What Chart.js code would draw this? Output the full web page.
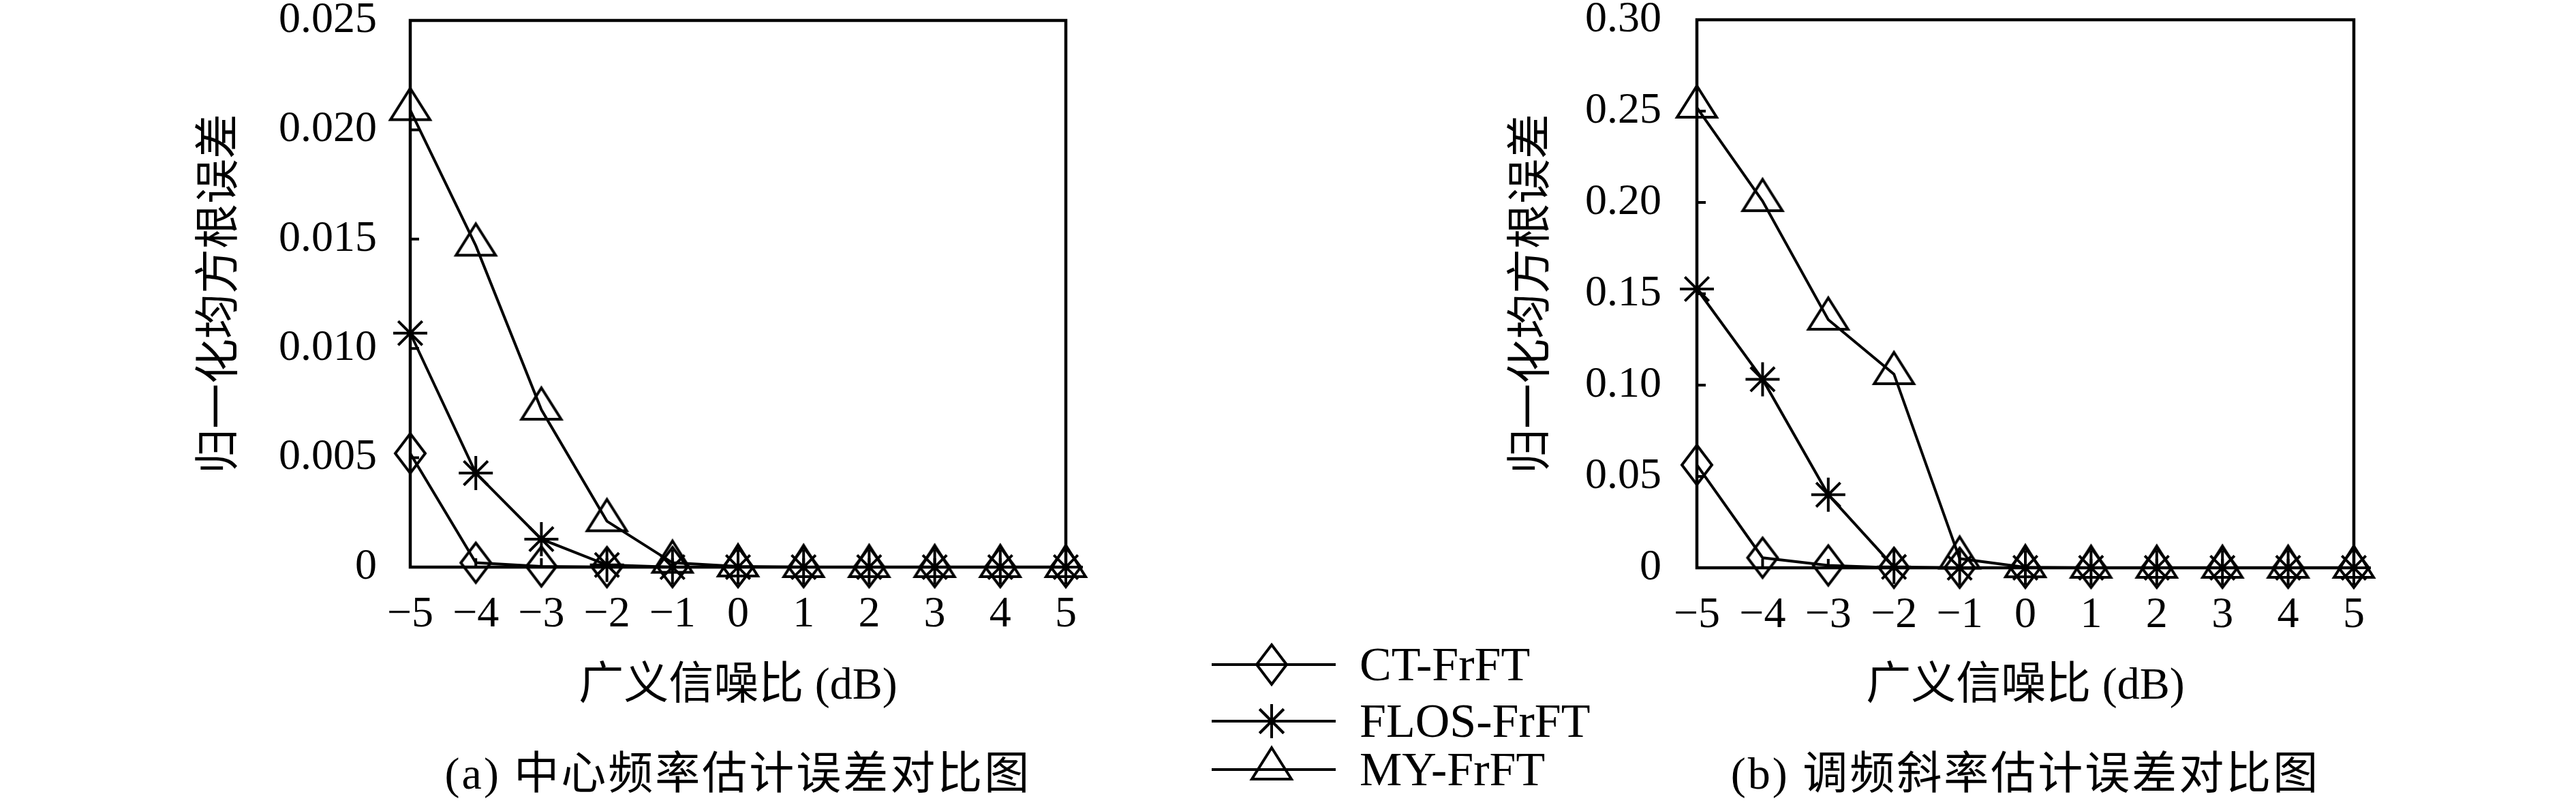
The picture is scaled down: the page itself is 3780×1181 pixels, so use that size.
<!DOCTYPE html>
<html>
<head>
<meta charset="utf-8">
<script src="https://cdn.jsdelivr.net/npm/chart.js@4.4.1/dist/chart.umd.min.js"></script>
<style>
  html, body { margin: 0; padding: 0; background: #fff; }
  #page { position: relative; width: 3780px; height: 1181px; background: #fff; overflow: hidden;
          font-family: 'Liberation Serif', 'Noto Sans CJK SC', serif; color: #000; }
  #boxA { position: absolute; left: 0; top: 0; }
  #boxB { position: absolute; left: 2150px; top: 0; }
  .cap { position: absolute; top: 1095px; width: 1100px; text-align: center; font-size: 66px;
         line-height: 80px; white-space: nowrap; letter-spacing: 3px; }
  .legico { position: absolute; left: 1770px; }
  .legtxt { position: absolute; left: 1995px; font-size: 70px; line-height: 80px; white-space: nowrap; }
</style>
</head>
<body>
<div id="page">
  <div id="boxA"><canvas id="chartA" width="1640" height="1181"></canvas></div>
  <div id="boxB"><canvas id="chartB" width="1630" height="1181"></canvas></div>

  <canvas class="legico" id="leg0" width="200" height="80" style="top:935px"></canvas>
  <canvas class="legico" id="leg1" width="200" height="80" style="top:1018px"></canvas>
  <canvas class="legico" id="leg2" width="200" height="80" style="top:1089px"></canvas>
  <div class="legtxt" id="legt0" style="top:935px"></div>
  <div class="legtxt" id="legt1" style="top:1018px"></div>
  <div class="legtxt" id="legt2" style="top:1089px"></div>

  <div class="cap" style="left:533px">(a) 中心频率估计误差对比图</div>
  <div class="cap" style="left:2422px">(b) 调频斜率估计误差对比图</div>
</div>

<script>
// x values: generalized SNR (dB)
var snr = [-5, -4, -3, -2, -1, 0, 1, 2, 3, 4, 5];
var xTickLabels = ['\u22125', '\u22124', '\u22123', '\u22122', '\u22121', '0', '1', '2', '3', '4', '5'];

var seriesNames = ['CT-FrFT', 'FLOS-FrFT', 'MY-FrFT'];

// (a) centre frequency error
var ctA   = [0.0052, 0.0002, 0.00003, 0, 0, 0, 0, 0, 0, 0, 0];
var flosA = [0.0107, 0.0043, 0.00128, 0.0001, 0, 0, 0, 0, 0, 0, 0];
var myA   = [0.0209, 0.0147, 0.0072, 0.0021, 0.0002, 0.00003, 0, 0, 0, 0, 0];
var yTicksA = [0, 0.005, 0.010, 0.015, 0.020, 0.025];
var yLabelsA = ['0', '0.005', '0.010', '0.015', '0.020', '0.025'];

// (b) chirp rate error
var ctB   = [0.0563, 0.0055, 0.0013, 0, 0, 0, 0, 0, 0, 0, 0];
var flosB = [0.1526, 0.1032, 0.0400, 0.0005, 0, 0, 0, 0, 0, 0, 0];
var myB   = [0.2519, 0.2007, 0.1358, 0.1060, 0.0050, 0.0003, 0, 0, 0, 0, 0];
var yTicksB = [0, 0.05, 0.10, 0.15, 0.20, 0.25, 0.30];
var yLabelsB = ['0', '0.05', '0.10', '0.15', '0.20', '0.25', '0.30'];

var xTitle = '广义信噪比 (dB)';
var yTitle = '归一化均方根误差';

var latin = "'Liberation Serif', 'Noto Sans CJK SC', serif";

// hollow marker images
function diamondImg(hw, hh, lw) {
    var c = document.createElement('canvas');
    c.width = 2 * Math.ceil(hw + lw + 4);
    c.height = 2 * Math.ceil(hh + lw + 4);
    var g = c.getContext('2d');
    var cx = c.width / 2, cy = c.height / 2;
    g.lineWidth = lw;
    g.strokeStyle = '#000';
    g.beginPath();
    g.moveTo(cx, cy - hh);
    g.lineTo(cx + hw, cy);
    g.lineTo(cx, cy + hh);
    g.lineTo(cx - hw, cy);
    g.closePath();
    g.stroke();
    return c;
}

function triangleImg(hw, up, down, lw) {
    var c = document.createElement('canvas');
    var half = Math.ceil(Math.max(up, down) + lw + 8);
    c.width = 2 * Math.ceil(hw + lw + 6);
    c.height = 2 * half;
    var g = c.getContext('2d');
    var cx = c.width / 2, cy = c.height / 2;
    g.lineWidth = lw;
    g.strokeStyle = '#000';
    g.beginPath();
    g.moveTo(cx, cy - up);
    g.lineTo(cx + hw, cy + down);
    g.lineTo(cx - hw, cy + down);
    g.closePath();
    g.stroke();
    return c;
}

var diamond = diamondImg(22, 29, 4);
var triangle = triangleImg(29, 32, 14, 4);
var markers = [diamond, 'star', triangle];

// box round the plot and short inward ticks
var framePlugin = {
    id: 'frame',
    beforeDatasetsDraw: function (chart) {
        var ctx = chart.ctx, a = chart.chartArea;
        var x = chart.scales.x, y = chart.scales.y;
        ctx.save();
        ctx.strokeStyle = '#000';
        ctx.lineWidth = 4;
        ctx.beginPath();
        y.ticks.forEach(function (t) {
            var py = y.getPixelForValue(t.value);
            ctx.moveTo(a.left, py);
            ctx.lineTo(a.left + 13, py);
        });
        x.ticks.forEach(function (t) {
            var px = x.getPixelForValue(t.value);
            ctx.moveTo(px, a.bottom);
            ctx.lineTo(px, a.bottom - 13);
        });
        ctx.stroke();
        ctx.lineWidth = 4.5;
        ctx.strokeRect(a.left, a.top, a.right - a.left, a.bottom - a.top);
        ctx.restore();
    }
};

function makeSet(i, values) {
    return {
        label: seriesNames[i],
        data: snr.map(function (s, k) { return {x: s, y: values[k]}; }),
        borderColor: '#000',
        borderWidth: 4,
        tension: 0,
        fill: false,
        clip: false,
        pointStyle: markers[i],
        pointRadius: 25,
        pointBorderWidth: 4,
        pointBorderColor: '#000',
        pointBackgroundColor: 'rgba(0,0,0,0)'
    };
}

function noPad(s) {
    s.paddingTop = 0;
    s.paddingBottom = 0;
    s.paddingLeft = 0;
    s.paddingRight = 0;
}

function makeChart(id, sets, yTicks, yLabels, yMax, opt) {
    var ctx = document.getElementById(id).getContext('2d');
    return new Chart(ctx, {
        type: 'line',
        data: {
            datasets: sets
        },
        options: {
            responsive: false,
            animation: false,
            events: [],
            layout: {
                autoPadding: false,
                padding: {top: opt.top, right: opt.right, left: 0, bottom: 0}
            },
            plugins: {
                legend: {display: false},
                tooltip: {enabled: false}
            },
            scales: {
                x: {
                    type: 'linear',
                    min: -5,
                    max: 5,
                    grid: {display: false, drawTicks: false},
                    border: {display: false},
                    afterBuildTicks: function (s) {
                        s.ticks = snr.map(function (v) { return {value: v}; });
                    },
                    afterFit: function (s) { s.height = opt.xHeight; noPad(s); },
                    ticks: {
                        padding: 41,
                        color: '#000',
                        maxRotation: 0,
                        font: {family: latin, size: 64, lineHeight: 0.9},
                        callback: function (v, i) { return xTickLabels[i]; }
                    },
                    title: {
                        display: true,
                        text: xTitle,
                        color: '#000',
                        font: {family: latin, size: 66},
                        padding: {top: 0, bottom: 134}
                    }
                },
                y: {
                    min: 0,
                    max: yMax,
                    grid: {display: false, drawTicks: false},
                    border: {display: false},
                    afterBuildTicks: function (s) {
                        s.ticks = yTicks.map(function (v) { return {value: v}; });
                    },
                    afterFit: function (s) { s.width = opt.yWidth; noPad(s); },
                    ticks: {
                        padding: opt.yPad,
                        color: '#000',
                        font: {family: latin, size: 64, lineHeight: 0.9},
                        callback: function (v, i) { return yLabels[i]; }
                    },
                    title: {
                        display: true,
                        text: yTitle,
                        color: '#000',
                        font: {family: latin, size: 66},
                        padding: {top: opt.yTitlePad, bottom: 0}
                    }
                }
            }
        },
        plugins: [framePlugin]
    });
}

makeChart('chartA', [makeSet(0, ctA), makeSet(1, flosA), makeSet(2, myA)], yTicksA, yLabelsA, 0.025,
    {top: 30, right: 76, xHeight: 349, yWidth: 602, yPad: 49, yTitlePad: 285});

makeChart('chartB', [makeSet(0, ctB), makeSet(1, flosB), makeSet(2, myB)], yTicksB, yLabelsB, 0.30,
    {top: 29, right: 326, xHeight: 348, yWidth: 340, yPad: 52, yTitlePad: 60});

// legend between the two panels
seriesNames.forEach(function (name, i) {
    var c = document.getElementById('leg' + i);
    var g = c.getContext('2d');
    g.strokeStyle = '#000';
    g.lineWidth = 4;
    g.beginPath();
    g.moveTo(8, 40);
    g.lineTo(190, 40);
    g.stroke();
    var m = markers[i];
    if (m === 'star') {
        Chart.helpers.drawPoint(g, {pointStyle: 'star', radius: 25, borderWidth: 4}, 96, 40);
        g.stroke();
    } else {
        g.drawImage(m, 96 - m.width / 2, 40 - m.height / 2);
    }
    document.getElementById('legt' + i).textContent = name;
});
</script>
</body>
</html>
